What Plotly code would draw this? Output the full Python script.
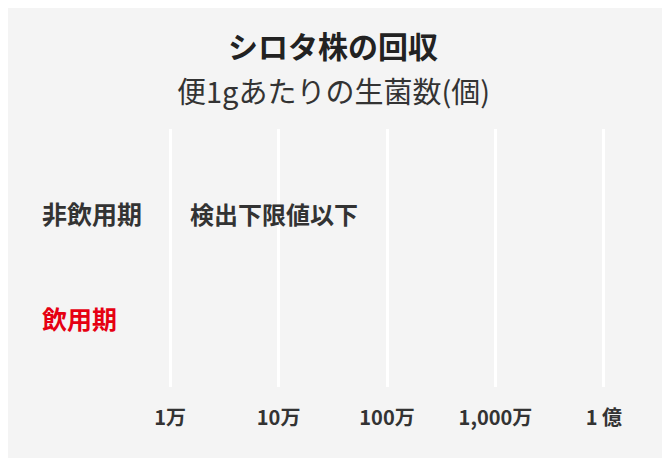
import plotly.graph_objects as go

# ==========================================================
# Data
# ==========================================================
categories = ["非飲用期", "飲用期"]
counts = [None, None]          # 生菌数 (bars not drawn in the reference)
label_colors = ["#333333", "#e60012"]
note_text = "検出下限値以下"
tick_values = [1e4, 1e5, 1e6, 1e7, 1e8]
tick_labels = ["1万", "10万", "100万", "1,000万", "1 億"]

FONT = "Noto Sans CJK JP"
BG = "#f4f4f4"

# page body has an 8px margin, so everything is shifted up/left by 8px
OFF = 8
L, T = 168 - OFF, 129 - OFF
PLOT_W, PLOT_H = 438, 258
CENTER = (333 - OFF - L) / PLOT_W   # page centre in paper coords

fig = go.Figure()

fig.add_trace(go.Bar(
    x=counts,
    y=categories,
    orientation="h",
    marker_color="#e60012",
    hoverinfo="skip",
    showlegend=False
))

# category labels, left aligned
for cat, col in zip(categories, label_colors):
    fig.add_annotation(
        x=0, xref="paper", xanchor="left", xshift=-(168 - 40),
        y=cat, yref="y",
        text="<b>" + cat + "</b>",
        showarrow=False,
        font=dict(family=FONT, size=25, color=col)
    )

# below detection limit note
fig.add_annotation(
    x=4, xref="x", xanchor="left", xshift=18,
    y=categories[0], yref="y",
    text="<b>" + note_text + "</b>",
    showarrow=False,
    font=dict(family=FONT, size=24, color="#333333")
)

# title
fig.add_annotation(
    x=CENTER, xref="paper", y=1 + (129 - 45) / PLOT_H, yref="paper", yanchor="middle",
    text="<b>シロタ株の回収</b>",
    showarrow=False,
    font=dict(family=FONT, size=30, color="#222222")
)

# subtitle
fig.add_annotation(
    x=CENTER, xref="paper", y=1 + (129 - 90) / PLOT_H, yref="paper", yanchor="middle",
    text="便1gあたりの生菌数(個)",
    showarrow=False,
    font=dict(family=FONT, size=29, color="#333333")
)

fig.update_layout(
    width=670,
    height=458,
    paper_bgcolor=BG,
    plot_bgcolor=BG,
    margin=dict(l=L, r=670 - L - PLOT_W, t=T, b=458 - T - PLOT_H),
    xaxis=dict(
        type="log",
        range=[3.98, 8.02],
        tickvals=tick_values,
        ticktext=tick_labels,
        showgrid=True,
        gridcolor="white",
        gridwidth=3,
        zeroline=False,
        showline=False,
        ticks="",
        ticklabelstandoff=17,
        tickfont=dict(family=FONT, size=20, color="#333333", weight="bold"),
        fixedrange=True
    ),
    yaxis=dict(
        type="category",
        categoryarray=categories,
        range=[1.657, -0.8],
        showticklabels=False,
        showgrid=False,
        zeroline=False,
        fixedrange=True
    )
)

fig.write_html("out.html")
